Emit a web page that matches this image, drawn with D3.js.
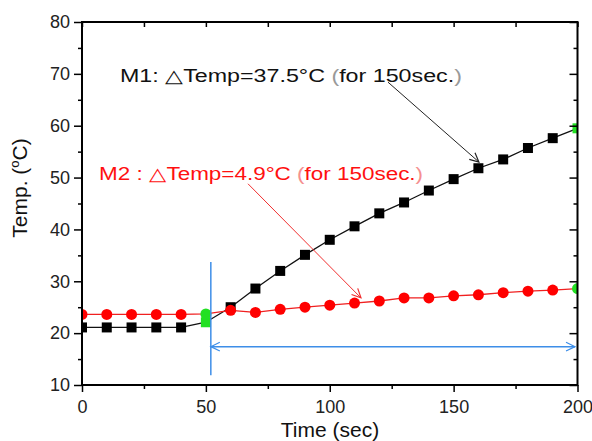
<!DOCTYPE html>
<html>
<head>
<meta charset="utf-8">
<script src="https://cdn.jsdelivr.net/npm/d3@7/dist/d3.min.js"></script>
<style>
    body { margin: 0; background: #fff; }
    svg { display: block; font-family: "Liberation Sans", Arial, sans-serif; }
</style>
</head>
<body>
<svg id="chart" width="592" height="441"></svg>
<script>
// Data
const time = [0, 10, 20, 30, 40, 50, 60, 70, 80, 90, 100, 110, 120, 130, 140, 150, 160, 170, 180, 190, 200];
const m1Temp = [21.1, 21.1, 21.1, 21.1, 21.1, 22.1, 25.0, 28.6, 32.0, 35.1, 38.0, 40.6, 43.1, 45.2, 47.5, 49.7, 51.8, 53.5, 55.7, 57.6, 59.5];
const m2Temp = [23.6, 23.6, 23.6, 23.6, 23.6, 23.7, 24.4, 24.0, 24.6, 25.0, 25.4, 25.8, 26.2, 26.8, 26.8, 27.2, 27.4, 27.8, 28.1, 28.3, 28.6];
const greenTimes = [50, 200];
const xTicks = [0, 50, 100, 150, 200];
const xMinorTicks = [25, 75, 125, 175];
const yTicks = [10, 20, 30, 40, 50, 60, 70, 80];
const yMinorTicks = [15, 25, 35, 45, 55, 65, 75];

// annotation anchors, in data units
const m1Label = { t: 15.3, v: 68.4, text: ["M1: △Temp=37.5°C ", "(", "for 150sec.", ")"] };
const m2Label = { t: 6.9, v: 49.5, text: ["M2 : △Temp=4.9°C ", "(", "for 150sec.", ")"] };
const m1Arrow = [[123.5, 68.4], [160.2, 53.0]];
const m2Arrow = [[67.0, 48.8], [112.6, 26.8]];
const startLine = [[52, 33.7], [52, 11.9]];
const spanArrow = [[52, 17.4], [199, 17.4]];

const svg = d3.select("#chart");

const plotLeft = 82, plotRight = 577.5, plotTop = 22, plotBottom = 385;

const x = d3.scaleLinear().domain([0, 200]).range([plotLeft, plotRight]);
const y = d3.scaleLinear().domain([10, 80]).range([plotBottom, plotTop]);

// clip everything to the frame
svg.append("defs").append("clipPath").attr("id", "plot-clip")
    .append("rect")
    .attr("x", plotLeft).attr("y", plotTop)
    .attr("width", plotRight - plotLeft).attr("height", plotBottom - plotTop);

const plot = svg.append("g").attr("clip-path", "url(#plot-clip)");

const m1 = time.map((t, i) => ({ t: t, v: m1Temp[i] }));
const m2 = time.map((t, i) => ({ t: t, v: m2Temp[i] }));

const line = d3.line().x(d => x(d.t)).y(d => y(d.v));

// M1 (black squares)
plot.append("path")
    .datum(m1)
    .attr("d", line)
    .attr("fill", "none")
    .attr("stroke", "#111")
    .attr("stroke-width", 1.3);

plot.selectAll(".m1-pt")
    .data(m1.filter(d => !greenTimes.includes(d.t)))
    .enter().append("rect")
    .attr("class", "m1-pt")
    .attr("x", d => x(d.t) - 5)
    .attr("y", d => y(d.v) - 5)
    .attr("width", 10)
    .attr("height", 10)
    .attr("fill", "#000");

// M2 (red circles)
plot.append("path")
    .datum(m2)
    .attr("d", line)
    .attr("fill", "none")
    .attr("stroke", "#f02020")
    .attr("stroke-width", 1.3);

plot.selectAll(".m2-pt")
    .data(m2.filter(d => !greenTimes.includes(d.t)))
    .enter().append("circle")
    .attr("class", "m2-pt")
    .attr("cx", d => x(d.t))
    .attr("cy", d => y(d.v))
    .attr("r", 5.5)
    .attr("fill", "#ff0000");

// green start / end points
const green = "#22e022";
plot.selectAll(".g-sq")
    .data(m1.filter(d => greenTimes.includes(d.t)))
    .enter().append("rect")
    .attr("x", d => x(d.t) - 5)
    .attr("y", d => y(d.v) - 5)
    .attr("width", 10)
    .attr("height", 10)
    .attr("fill", green);

plot.selectAll(".g-ci")
    .data(m2.filter(d => greenTimes.includes(d.t)))
    .enter().append("circle")
    .attr("cx", d => x(d.t))
    .attr("cy", d => y(d.v))
    .attr("r", 5.5)
    .attr("fill", green);

// Axes
function styleAxis(g) {
    g.select(".domain").remove();
    g.selectAll("line").attr("stroke", "#000").attr("stroke-width", 1.5);
    g.selectAll("text").attr("fill", "#222").style("font-size", "18px");
}

svg.append("g")
    .attr("transform", `translate(0,${plotBottom})`)
    .call(d3.axisBottom(x).tickValues(xTicks).tickSize(7).tickPadding(8).tickFormat(d3.format("d")))
    .call(styleAxis);
svg.append("g")
    .attr("transform", `translate(0,${plotBottom})`)
    .call(d3.axisBottom(x).tickValues(xMinorTicks).tickSize(4).tickFormat(""))
    .call(styleAxis);

svg.append("g")
    .attr("transform", `translate(${plotLeft},0)`)
    .call(d3.axisLeft(y).tickValues(yTicks).tickSize(8).tickPadding(4).tickFormat(d3.format("d")))
    .call(styleAxis);
svg.append("g")
    .attr("transform", `translate(${plotLeft},0)`)
    .call(d3.axisLeft(y).tickValues(yMinorTicks).tickSize(4).tickFormat(""))
    .call(styleAxis);

// mirrored axes, ticks pointing in
svg.append("g")
    .attr("transform", `translate(0,${plotTop})`)
    .call(d3.axisBottom(x).tickValues(xTicks.concat(xMinorTicks)).tickSize(5).tickFormat(""))
    .call(styleAxis);
svg.append("g")
    .attr("transform", `translate(${plotRight},0)`)
    .call(d3.axisLeft(y).tickValues(yTicks).tickSize(8).tickFormat(""))
    .call(styleAxis);
svg.append("g")
    .attr("transform", `translate(${plotRight},0)`)
    .call(d3.axisLeft(y).tickValues(yMinorTicks).tickSize(4).tickFormat(""))
    .call(styleAxis);

// frame
svg.append("rect")
    .attr("x", plotLeft).attr("y", plotTop)
    .attr("width", plotRight - plotLeft).attr("height", plotBottom - plotTop)
    .attr("fill", "none")
    .attr("stroke", "#000")
    .attr("stroke-width", 2);

// Axis titles
svg.append("text")
    .attr("x", 330)
    .attr("y", 437)
    .attr("text-anchor", "middle")
    .style("font-size", "21px")
    .attr("fill", "#111")
    .text("Time (sec)");

const yTitle = svg.append("text")
    .attr("transform", "translate(27,188) rotate(-90)")
    .attr("text-anchor", "middle")
    .style("font-size", "21px")
    .attr("fill", "#111");
yTitle.append("tspan").text("Temp. (");
yTitle.append("tspan").attr("dy", -8).style("font-size", "13px").text("o");
yTitle.append("tspan").attr("dy", 8).text("C)");

// arrows
function arrowHead(g, x0, y0, x1, y1, color, size) {
    const a = Math.atan2(y1 - y0, x1 - x0);
    const s = 0.45;
    const p1 = [x1 - size * Math.cos(a - s), y1 - size * Math.sin(a - s)];
    const p2 = [x1 - size * Math.cos(a + s), y1 - size * Math.sin(a + s)];
    g.append("path")
        .attr("d", `M${p1[0]},${p1[1]}L${x1},${y1}L${p2[0]},${p2[1]}`)
        .attr("fill", "none")
        .attr("stroke", color)
        .attr("stroke-width", 1.2);
}

function arrow(pts, color, width, both) {
    const g = svg.append("g");
    const [a, b] = pts.map(p => [x(p[0]), y(p[1])]);
    g.append("line")
        .attr("x1", a[0]).attr("y1", a[1])
        .attr("x2", b[0]).attr("y2", b[1])
        .attr("stroke", color)
        .attr("stroke-width", width);
    arrowHead(g, a[0], a[1], b[0], b[1], color, 10);
    if (both) arrowHead(g, b[0], b[1], a[0], a[1], color, 10);
}

arrow(m1Arrow, "#222", 1, false);
arrow(m2Arrow, "#f03030", 1, false);

svg.append("line")
    .attr("x1", x(startLine[0][0])).attr("y1", y(startLine[0][1]))
    .attr("x2", x(startLine[1][0])).attr("y2", y(startLine[1][1]))
    .attr("stroke", "#3d8ee8")
    .attr("stroke-width", 1.5);
arrow(spanArrow, "#3d8ee8", 1.5, true);

// annotation labels
function label(d, color, parenColor, width) {
    const t = svg.append("text")
        .attr("x", x(d.t))
        .attr("y", y(d.v))
        .attr("fill", color)
        .attr("textLength", width)
        .attr("lengthAdjust", "spacingAndGlyphs")
        .style("font-size", "18px");
    d.text.forEach(s => {
        t.append("tspan")
            .attr("fill", (s === "(" || s === ")") ? parenColor : color)
            .text(s);
    });
}

label(m1Label, "#111", "#999", 342);
label(m2Label, "#ff1010", "#f59090", 324);
</script>
</body>
</html>
